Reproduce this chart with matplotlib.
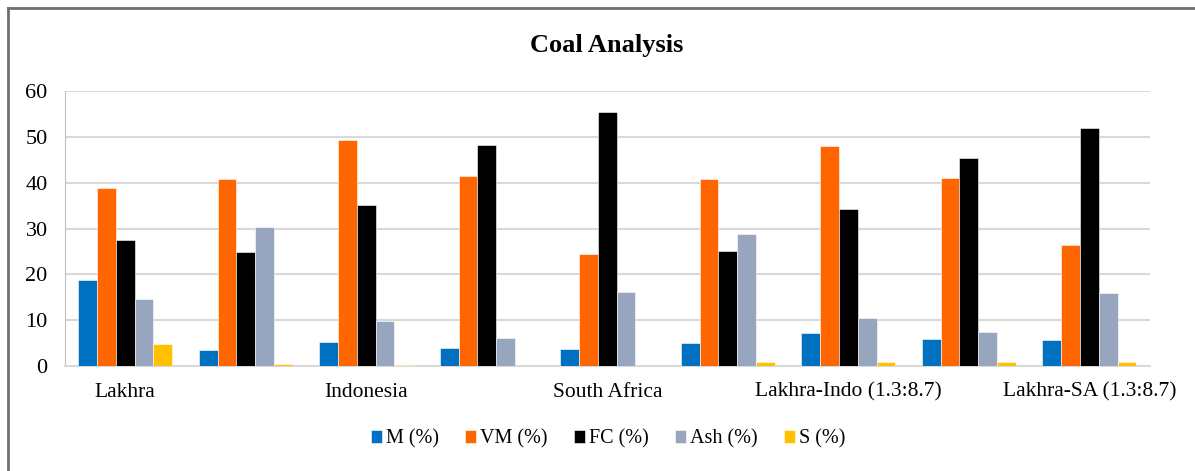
import numpy as np
import matplotlib.pyplot as plt
from matplotlib.lines import Line2D

plt.rcParams['font.family'] = ['Liberation Serif', 'DejaVu Serif']

categories = ["Lakhra", "", "Indonesia", "", "South Africa", "",
              "Lakhra-Indo (1.3:8.7)", "", "Lakhra-SA (1.3:8.7)"]
m_pct = [18.8, 3.6, 5.3, 3.9, 3.8, 5.1, 7.1, 6.0, 5.6]
vm_pct = [38.8, 40.9, 49.4, 41.5, 24.5, 40.7, 48.0, 41.1, 26.3]
fc_pct = [27.5, 24.9, 35.2, 48.2, 55.5, 25.1, 34.2, 45.3, 52.0]
ash_pct = [14.7, 30.4, 9.9, 6.2, 16.1, 28.8, 10.5, 7.4, 16.0]
s_pct = [4.8, 0.5, 0.3, 0.1, 0.1, 0.9, 0.9, 0.9, 0.8]

series = ["M (%)", "VM (%)", "FC (%)", "Ash (%)", "S (%)"]
colors = ["#0070C0", "#FF6600", "#000000", "#97A6BE", "#FFC000"]

fig = plt.figure(figsize=(11.95, 4.71), dpi=100)
ax = fig.add_axes([0.0544, 0.2229, 0.9076, 0.5839])

# chart border: only left and top edges are visible in the crop
bx, by = 8 / 1195, 1 - 8 / 471
fig.lines.append(Line2D([bx, bx], [0, by], transform=fig.transFigure,
                        color='#707070', linewidth=2))
fig.lines.append(Line2D([bx, 1], [by, by], transform=fig.transFigure,
                        color='#707070', linewidth=2))

x = np.arange(len(categories))
w = 0.156
for i, (vals, name, col) in enumerate(zip([m_pct, vm_pct, fc_pct, ash_pct, s_pct], series, colors)):
    ax.bar(x + (i - 2) * w, vals, width=w, color=col, label=name,
           edgecolor='white', linewidth=0.4, zorder=3)

ax.set_xlim(-0.5, len(categories) - 0.5)
ax.set_ylim(0, 60)
ax.set_yticks(range(0, 61, 10))
ax.set_xticks(x)
ax.set_xticklabels(categories)
ax.tick_params(axis='both', length=0)
ax.tick_params(axis='x', pad=12, labelsize=15.5)
ax.tick_params(axis='y', pad=12.5, labelsize=16)
ax.grid(axis='y', color='#D9D9D9', linewidth=1.5, zorder=0)
for sp in ['top', 'right']:
    ax.spines[sp].set_visible(False)
ax.spines['left'].set_color('#BFBFBF')
ax.spines['bottom'].set_color('#D9D9D9')
ax.spines['bottom'].set_linewidth(1.5)

fig.text(0.508, 0.904, "Coal Analysis", ha='center', va='center',
         fontsize=19, fontweight='bold')

fig.legend(loc='center', bbox_to_anchor=(0.509, 0.068), ncol=5, frameon=False,
           fontsize=14.5, handlelength=0.55, handleheight=0.55, handletextpad=0.2,
           columnspacing=1.3)

fig.savefig("out.png", dpi=100)
